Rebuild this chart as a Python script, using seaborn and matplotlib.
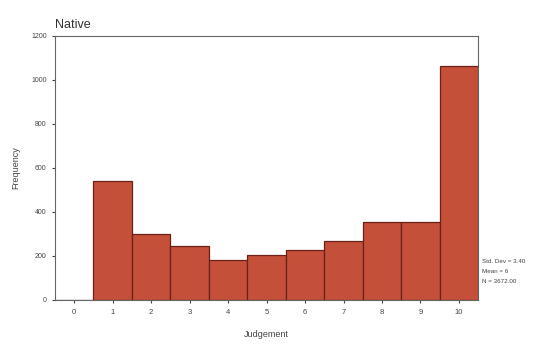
import numpy as np
import pandas as pd
import matplotlib
matplotlib.use("Agg")
import matplotlib.pyplot as plt
import seaborn as sns

judgement = [0, 1, 2, 3, 4, 5, 6, 7, 8, 9, 10]
frequency = [0, 540, 300, 245, 180, 205, 225, 270, 355, 355, 1065]
stats_lines = ["Std. Dev = 3.40", "Mean = 6", "N = 3672.00"]

sns.set_style("ticks")
plt.rcParams['font.family'] = ['Liberation Sans', 'DejaVu Sans']

df = pd.DataFrame({"Judgement": judgement, "Frequency": frequency})

fig = plt.figure(figsize=(5.44, 3.46), dpi=100)
ax = fig.add_axes([0.101, 0.133, 0.778, 0.763])
sns.barplot(data=df, x="Judgement", y="Frequency", order=judgement,
            color="#c4503a", saturation=1, width=1.0,
            edgecolor="#6a2218", linewidth=0.9, ax=ax)

ax.set_xlim(-0.5, 10.5)
ax.set_ylim(0, 1200)
ax.set_yticks([0, 200, 400, 600, 800, 1000, 1200])
ax.tick_params(axis="both", labelsize=5, length=2.5, width=0.8,
               colors="#444444", direction="out", left=True, bottom=True)
ax.tick_params(axis="x", labelsize=5.5, pad=4)
for s in ax.spines.values():
    s.set_visible(True)
    s.set_color("#666666")
    s.set_linewidth(0.8)
ax.set_xlabel("Judgement", fontsize=6.5, color="#444444", labelpad=10)
ax.set_ylabel("Frequency", fontsize=6.5, color="#444444", labelpad=8)
ax.set_title("Native", loc="left", fontsize=9, color="#333333", pad=6)

for i, line in enumerate(stats_lines):
    fig.text(0.886, 0.24 - i * 0.029, line, fontsize=4.5, color="#444444")

fig.savefig("out.png", dpi=100)
